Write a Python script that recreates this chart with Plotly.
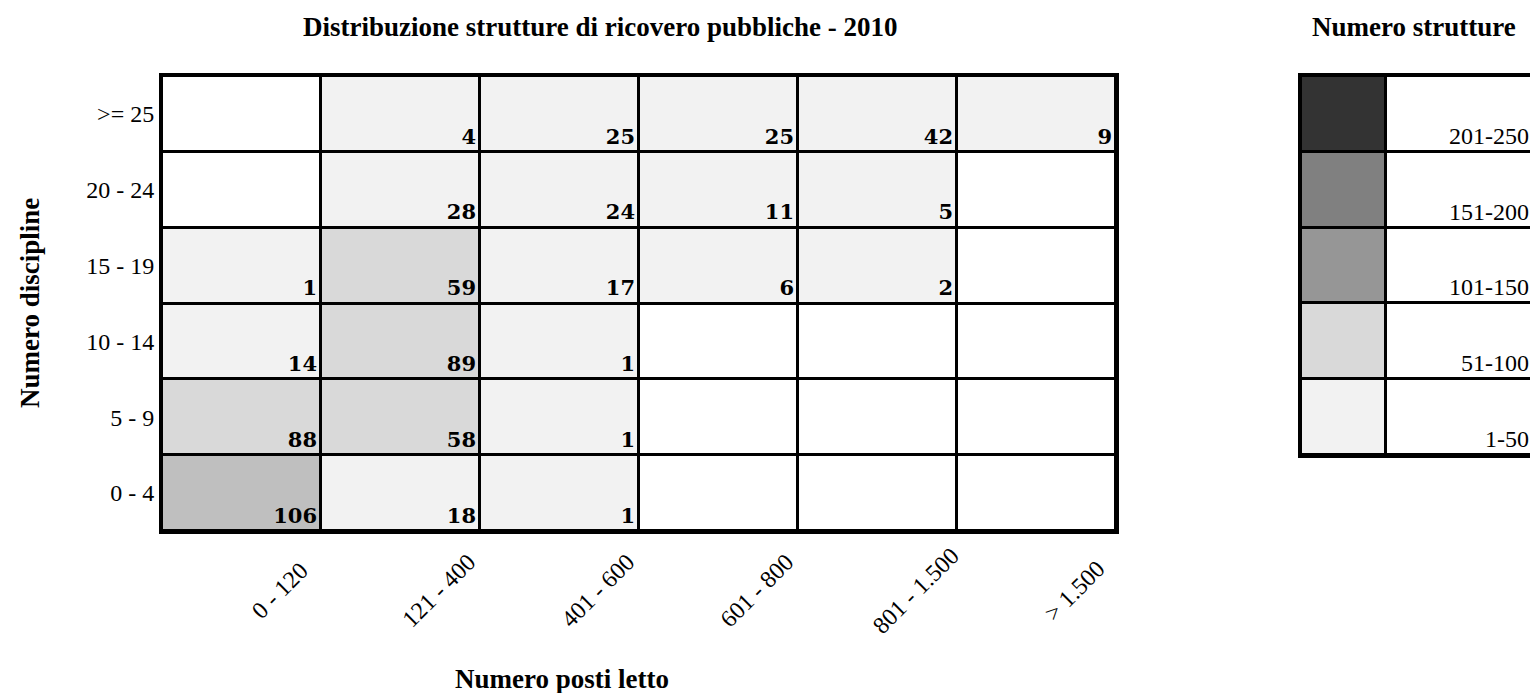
import plotly.graph_objects as go

# ---------------- data ----------------
ROW_LABELS = ["0 - 4", "5 - 9", "10 - 14", "15 - 19", "20 - 24", ">= 25"]  # bottom -> top
COL_LABELS = ["0 - 120", "121 - 400", "401 - 600", "601 - 800", "801 - 1.500", "> 1.500"]

ROW_0_4 = [106, 18, 1, None, None, None]
ROW_5_9 = [88, 58, 1, None, None, None]
ROW_10_14 = [14, 89, 1, None, None, None]
ROW_15_19 = [1, 59, 17, 6, 2, None]
ROW_20_24 = [None, 28, 24, 11, 5, None]
ROW_GE_25 = [None, 4, 25, 25, 42, 9]
COUNTS = [ROW_0_4, ROW_5_9, ROW_10_14, ROW_15_19, ROW_20_24, ROW_GE_25]

CLASS_LABELS = ["1-50", "51-100", "101-150", "151-200", "201-250"]
CLASS_STEP = 50

CELL_COLORS = ["#ffffff", "#f2f2f2", "#d9d9d9", "#bfbfbf", "#808080", "#333333"]
LEGEND_COLORS = ["#ffffff", "#f2f2f2", "#d9d9d9", "#969696", "#808080", "#333333"]

TITLE = "Distribuzione strutture di ricovero pubbliche - 2010"
LEGEND_TITLE = "Numero strutture"
X_TITLE = "Numero posti letto"
Y_TITLE = "Numero discipline"

# ---------------- layout constants ----------------
W, H = 1530, 693
SERIF = "Liberation Serif, Times New Roman, serif"
NUMFONT = "DejaVu Serif, serif"
GRID_L, GRID_R, GRID_T, GRID_B = 162, 1116, 76, 531
LEG_L, LEG_T, LEG_B = 1301, 76, 455

ncol, nrow = len(COL_LABELS), len(ROW_LABELS)
col_px = (GRID_R - GRID_L) / ncol
row_px = (GRID_B - GRID_T) / nrow


def cls(v):
    if v is None:
        return 0
    return min(len(CLASS_LABELS), (v + CLASS_STEP - 1) // CLASS_STEP)


def discrete(colors):
    n = len(colors)
    cs = []
    for i, c in enumerate(colors):
        cs.append([i / n, c])
        cs.append([(i + 1) / n, c])
    return cs


fig = go.Figure()

# main grid
z = [[cls(v) for v in row] for row in COUNTS]
fig.add_trace(go.Heatmap(
    x=list(range(ncol)), y=list(range(nrow)), z=z,
    colorscale=discrete(CELL_COLORS), zmin=-0.5, zmax=len(CELL_COLORS) - 0.5,
    xgap=3, ygap=3, showscale=False, hoverinfo="skip",
    xaxis="x", yaxis="y"))

pad_x = 4 / col_px
pad_y = 3 / row_px
tx, ty, tt = [], [], []
for r, row in enumerate(COUNTS):
    for c, v in enumerate(row):
        if v is not None:
            tx.append(c + 0.5 - pad_x)
            ty.append(r - 0.5 + pad_y)
            tt.append(str(v))
fig.add_trace(go.Scatter(
    x=tx, y=ty, text=tt, mode="text", textposition="top left",
    textfont=dict(family=NUMFONT, size=21, color="black", weight="bold"),
    hoverinfo="skip", showlegend=False, xaxis="x", yaxis="y"))

# legend grid
nL = len(CLASS_LABELS)
fig.add_trace(go.Heatmap(
    x=[0, 85, 320], y=list(range(nL)),
    z=[[i + 1, 0] for i in range(nL)],
    colorscale=discrete(LEGEND_COLORS), zmin=-0.5, zmax=len(LEGEND_COLORS) - 0.5,
    xgap=3, ygap=3, showscale=False, hoverinfo="skip",
    xaxis="x2", yaxis="y2"))
fig.add_trace(go.Scatter(
    x=[228] * nL, y=[i - 0.5 + 2 / 76 for i in range(nL)], text=CLASS_LABELS,
    mode="text", textposition="top left",
    textfont=dict(family=SERIF, size=24, color="black"),
    hoverinfo="skip", showlegend=False, xaxis="x2", yaxis="y2"))

axis_common = dict(showgrid=False, zeroline=False, showline=True, linewidth=3,
                   linecolor="black", ticks="", fixedrange=True)

annotations = [
    dict(text=TITLE, x=600 / W, y=1 - 27 / H, xref="paper", yref="paper",
         showarrow=False, xanchor="center", yanchor="middle",
         font=dict(family=SERIF, size=27, color="black", weight="bold")),
    dict(text=LEGEND_TITLE, x=1414 / W, y=1 - 27 / H, xref="paper", yref="paper",
         showarrow=False, xanchor="center", yanchor="middle",
         font=dict(family=SERIF, size=27, color="black", weight="bold")),
    dict(text=X_TITLE, x=562 / W, y=1 - 679 / H, xref="paper", yref="paper",
         showarrow=False, xanchor="center", yanchor="middle",
         font=dict(family=SERIF, size=27, color="black", weight="bold")),
    dict(text=Y_TITLE, x=30 / W, y=1 - 303 / H, xref="paper", yref="paper",
         showarrow=False, xanchor="center", yanchor="middle", textangle=-90,
         font=dict(family=SERIF, size=27, color="black", weight="bold")),
]
# rotated category labels (centre of each label sits right of the column centre)
for i, lab in enumerate(COL_LABELS):
    annotations.append(dict(
        text=lab, x=i + 38 / col_px, y=1 - 591 / H, xref="x", yref="paper",
        showarrow=False, xanchor="center", yanchor="middle", textangle=-45,
        font=dict(family=SERIF, size=24, color="black")))

fig.update_layout(
    width=W, height=H,
    margin=dict(l=0, r=0, t=0, b=0),
    paper_bgcolor="white", plot_bgcolor="black",
    showlegend=False,
    xaxis=dict(domain=[GRID_L / W, GRID_R / W], range=[-0.5, ncol - 0.5],
               showticklabels=False, mirror=True, anchor="y", **axis_common),
    yaxis=dict(domain=[(H - GRID_B) / H, (H - GRID_T) / H], range=[-0.5, nrow - 0.5],
               tickmode="array", tickvals=list(range(nrow)),
               ticktext=ROW_LABELS, mirror=True,
               tickfont=dict(family=SERIF, size=24, color="black"),
               ticklabelstandoff=0, anchor="x", **axis_common),
    xaxis2=dict(domain=[LEG_L / W, 1.0], range=[0, 229], showticklabels=False,
                mirror=True, anchor="y2", **axis_common),
    yaxis2=dict(domain=[(H - LEG_B) / H, (H - LEG_T) / H], range=[-0.5, nL - 0.5],
                showticklabels=False, mirror=False, anchor="x2", **axis_common),
    annotations=annotations,
)

fig.write_html(
    "out.html",
    config={"displayModeBar": False},
    post_script="document.body.style.margin='0';"
                "document.documentElement.style.overflow='hidden';",
)
